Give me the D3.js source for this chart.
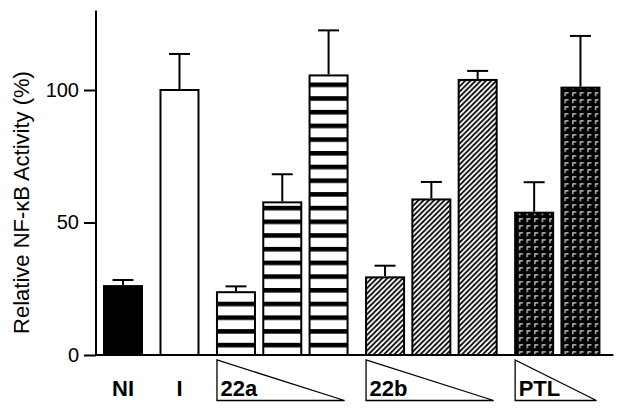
<!DOCTYPE html>
<html>
<head>
<meta charset="utf-8">
<script src="https://cdn.jsdelivr.net/npm/d3@7"></script>
<style>
  html, body { margin: 0; padding: 0; background: #fff; }
  svg { display: block; }
</style>
</head>
<body>
<svg id="chart" width="624" height="412"></svg>
<script>
// ---- data ----
const categories = ["NI", "I", "22a-1", "22a-2", "22a-3", "22b-1", "22b-2", "22b-3", "PTL-1", "PTL-2"];
const groups     = ["NI", "I", "22a", "22a", "22a", "22b", "22b", "22b", "PTL", "PTL"];
const values     = [26, 100, 23.7, 57.6, 105.5, 29.3, 58.7, 103.8, 53.7, 100.9];
const errors     = [2.3, 13.6, 2.2, 10.6, 17, 4.4, 6.6, 3.4, 11.5, 19.5];
const yTicks     = [0, 50, 100];
const yLabel     = "Relative NF-κB Activity (%)";
const plainLabels = ["NI", "I"];
const gradientLabels = ["22a", "22b", "PTL"];
const fills = { "NI": "solid", "I": "empty", "22a": "hstripe", "22b": "diag", "PTL": "weave" };

// ---- layout ----
const svg = d3.select("#chart");
const groupOrder = Array.from(new Set(groups));
const slots = categories.map((c, i) => i + groupOrder.indexOf(groups[i]) * 0.22);
const barW = 38;
const x = d3.scaleLinear().domain([0, 1]).range([104, 150.3]);
const y = d3.scaleLinear().domain([0, 130]).range([355, 10.5]);
const axisX = 96;
const FONT = "Liberation Sans, Arial, Helvetica, sans-serif";

// ---- patterns ----
const defs = svg.append("defs");
const ph = defs.append("pattern").attr("id", "hstripe").attr("patternUnits", "userSpaceOnUse")
  .attr("width", 10).attr("height", 13.7).attr("y", 0.3);
ph.append("rect").attr("width", 10).attr("height", 13.7).attr("fill", "#fff");
ph.append("rect").attr("y", 0).attr("width", 10).attr("height", 4.6).attr("fill", "#000");

const pd = defs.append("pattern").attr("id", "diag").attr("patternUnits", "userSpaceOnUse")
  .attr("width", 5.2).attr("height", 5.2);
pd.append("rect").attr("width", 5.2).attr("height", 5.2).attr("fill", "#fff");
pd.append("path").attr("d", "M-1,6.2 L6.2,-1 M-1,1 L1,-1 M4.2,6.2 L6.2,4.2")
  .attr("stroke", "#000").attr("stroke-width", 1.7);

const pw = defs.append("pattern").attr("id", "weave").attr("patternUnits", "userSpaceOnUse")
  .attr("width", 7.6).attr("height", 7).attr("x", 1);
pw.append("rect").attr("width", 7.6).attr("height", 7).attr("fill", "#000");
pw.append("path").attr("d", "M1.8,5.2 V1.8 H5.2").attr("fill", "none")
  .attr("stroke", "#ddd").attr("stroke-width", 1.2);

function fillFor(g) {
  const f = fills[g];
  if (f === "solid") return "#000";
  if (f === "empty") return "#fff";
  return "url(#" + f + ")";
}

// ---- bars ----
const data = categories.map((c, i) => ({ c, g: groups[i], v: values[i], e: errors[i], s: slots[i] }));

svg.append("g").selectAll("rect").data(data).join("rect")
  .attr("x", d => x(d.s))
  .attr("y", d => y(d.v))
  .attr("width", barW)
  .attr("height", d => y(0) - y(d.v))
  .attr("fill", d => fillFor(d.g))
  .attr("stroke", "#000")
  .attr("stroke-width", 2);

// ---- error bars ----
const eb = svg.append("g").attr("stroke", "#000").attr("stroke-width", 2);
eb.selectAll("line.v").data(data).join("line").attr("class", "v")
  .attr("x1", d => x(d.s) + barW / 2).attr("x2", d => x(d.s) + barW / 2)
  .attr("y1", d => y(d.v) - 1).attr("y2", d => y(d.v + d.e));
eb.selectAll("line.h").data(data).join("line").attr("class", "h")
  .attr("x1", d => x(d.s) + barW / 2 - 10.5).attr("x2", d => x(d.s) + barW / 2 + 10.5)
  .attr("y1", d => y(d.v + d.e)).attr("y2", d => y(d.v + d.e));

// ---- axes ----
const yAxis = d3.axisLeft(y).tickValues(yTicks).tickSize(12).tickPadding(5).tickFormat(d3.format("d"));
const ga = svg.append("g").attr("transform", `translate(${axisX},0)`).call(yAxis);
ga.select(".domain").attr("d", `M0,${y(130)}V${y(0)}`).attr("stroke", "#000").attr("stroke-width", 2);
ga.selectAll(".tick line").attr("stroke", "#000").attr("stroke-width", 2);
ga.selectAll(".tick text").attr("font-family", FONT)
  .attr("font-size", 20).attr("fill", "#000");

const lastBar = data[data.length - 1];
svg.append("line")
  .attr("x1", axisX).attr("x2", x(lastBar.s) + barW + 14)
  .attr("y1", y(0)).attr("y2", y(0))
  .attr("stroke", "#000").attr("stroke-width", 2);

// y label
svg.append("text")
  .attr("transform", `translate(28.5,${202.5}) rotate(-90)`)
  .attr("text-anchor", "middle")
  .attr("font-family", FONT)
  .attr("font-size", 22)
  .text(yLabel);

// ---- category labels ----
plainLabels.forEach(lbl => {
  const d = data.find(dd => dd.g === lbl);
  svg.append("text")
    .attr("x", x(d.s) + barW / 2).attr("y", 396)
    .attr("text-anchor", "middle")
    .attr("font-family", FONT)
    .attr("font-weight", "bold").attr("font-size", 22)
    .text(lbl);
});

gradientLabels.forEach(lbl => {
  const members = data.filter(dd => dd.g === lbl);
  const left = x(members[0].s);
  const right = x(members[members.length - 1].s) + barW - 3;
  const top = 360, bottom = 400.5;
  svg.append("path")
    .attr("d", `M${left},${top} L${left},${bottom} L${right},${bottom} Z`)
    .attr("fill", "#fff").attr("stroke", "#000").attr("stroke-width", 1.3);
  svg.append("text")
    .attr("x", left + 3.5).attr("y", 395.5)
    .attr("font-family", FONT)
    .attr("font-weight", "bold").attr("font-size", 22)
    .text(lbl);
});
</script>
</body>
</html>
